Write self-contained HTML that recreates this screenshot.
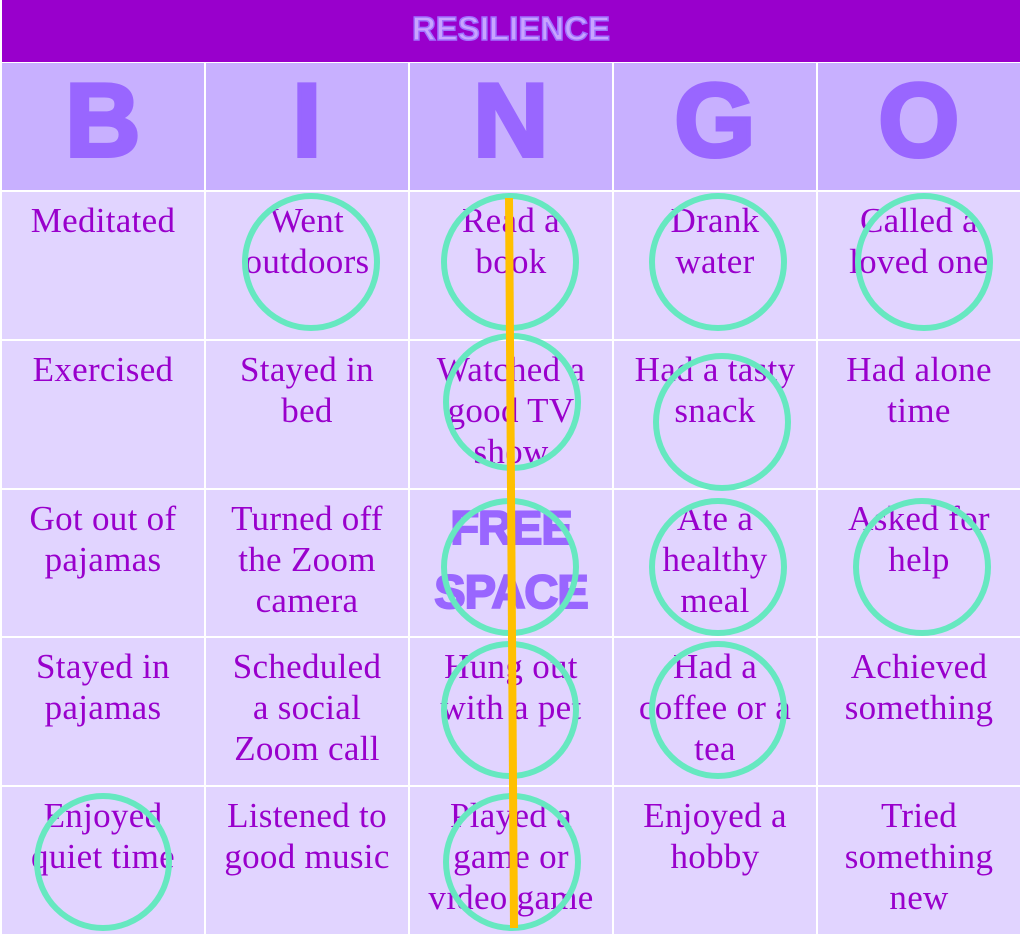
<!DOCTYPE html>
<html><head><meta charset="utf-8"><style>
body{margin:0;width:1023px;height:939px;background:#fff;position:relative;overflow:hidden;font-family:"Liberation Serif",serif}
.hdr{position:absolute;left:2px;top:0;width:1018px;height:62px;background:#9900cc;color:#c8a4ff;font:bold 33px "Liberation Sans",sans-serif;text-align:center;line-height:58px;-webkit-text-stroke:1.5px #a070ff}
.c{position:absolute;box-sizing:border-box;text-align:center;color:#9900cc;font-size:35px;letter-spacing:0.3px;line-height:41px;padding-top:8px;background:#e1d4ff;white-space:nowrap}
.h{background:#c8b0ff;color:#9966ff;font:bold 104px "Liberation Sans",sans-serif;line-height:116px;padding:0;-webkit-text-stroke:4px #9966ff}
.free{color:#9966ff;font:bold 47px "Liberation Sans",sans-serif;line-height:64px;padding-top:6px;-webkit-text-stroke:2px #9966ff;letter-spacing:-1px}
svg{position:absolute;left:0;top:0}
</style></head><body>
<div class="hdr">RESILIENCE</div>
<div class="c h" style="left:2px;top:63px;width:202px;height:127px">B</div>
<div class="c h" style="left:206px;top:63px;width:202px;height:127px">I</div>
<div class="c h" style="left:410px;top:63px;width:202px;height:127px">N</div>
<div class="c h" style="left:614px;top:63px;width:202px;height:127px">G</div>
<div class="c h" style="left:818px;top:63px;width:202px;height:127px">O</div>

<div class="c" style="left:2px;top:192px;width:202px;height:147px">Meditated</div>
<div class="c" style="left:206px;top:192px;width:202px;height:147px">Went<br>outdoors</div>
<div class="c" style="left:410px;top:192px;width:202px;height:147px">Read a<br>book</div>
<div class="c" style="left:614px;top:192px;width:202px;height:147px">Drank<br>water</div>
<div class="c" style="left:818px;top:192px;width:202px;height:147px">Called a<br>loved one</div>

<div class="c" style="left:2px;top:341px;width:202px;height:147px">Exercised</div>
<div class="c" style="left:206px;top:341px;width:202px;height:147px">Stayed in<br>bed</div>
<div class="c" style="left:410px;top:341px;width:202px;height:147px">Watched a<br>good TV<br>show</div>
<div class="c" style="left:614px;top:341px;width:202px;height:147px">Had a tasty<br>snack</div>
<div class="c" style="left:818px;top:341px;width:202px;height:147px">Had alone<br>time</div>

<div class="c" style="left:2px;top:490px;width:202px;height:146px">Got out of<br>pajamas</div>
<div class="c" style="left:206px;top:490px;width:202px;height:146px">Turned off<br>the Zoom<br>camera</div>
<div class="c free" style="left:410px;top:490px;width:202px;height:146px">FREE<br>SPACE</div>
<div class="c" style="left:614px;top:490px;width:202px;height:146px">Ate a<br>healthy<br>meal</div>
<div class="c" style="left:818px;top:490px;width:202px;height:146px">Asked for<br>help</div>

<div class="c" style="left:2px;top:638px;width:202px;height:147px">Stayed in<br>pajamas</div>
<div class="c" style="left:206px;top:638px;width:202px;height:147px">Scheduled<br>a social<br>Zoom call</div>
<div class="c" style="left:410px;top:638px;width:202px;height:147px">Hung out<br>with a pet</div>
<div class="c" style="left:614px;top:638px;width:202px;height:147px">Had a<br>coffee or a<br>tea</div>
<div class="c" style="left:818px;top:638px;width:202px;height:147px">Achieved<br>something</div>

<div class="c" style="left:2px;top:787px;width:202px;height:147px">Enjoyed<br>quiet time</div>
<div class="c" style="left:206px;top:787px;width:202px;height:147px">Listened to<br>good music</div>
<div class="c" style="left:410px;top:787px;width:202px;height:147px">Played a<br>game or<br>video game</div>
<div class="c" style="left:614px;top:787px;width:202px;height:147px">Enjoyed a<br>hobby</div>
<div class="c" style="left:818px;top:787px;width:202px;height:147px">Tried<br>something<br>new</div>

<svg width="1023" height="939"><g fill="none" stroke="#66e8c0" stroke-width="6">
<circle cx="311" cy="262" r="66"/><circle cx="510" cy="262" r="66"/><circle cx="718" cy="262" r="66"/><circle cx="924" cy="262" r="66"/>
<circle cx="512" cy="402" r="66"/><circle cx="722" cy="422" r="66"/>
<circle cx="510" cy="567" r="66"/><circle cx="718" cy="567" r="66"/><circle cx="922" cy="567" r="66"/>
<circle cx="510" cy="710" r="66"/><circle cx="718" cy="710" r="66"/>
<circle cx="103" cy="862" r="66"/><circle cx="512" cy="862" r="66"/>
</g><line x1="509" y1="198" x2="514" y2="928" stroke="#ffc000" stroke-width="8"/></svg>
</body></html>
